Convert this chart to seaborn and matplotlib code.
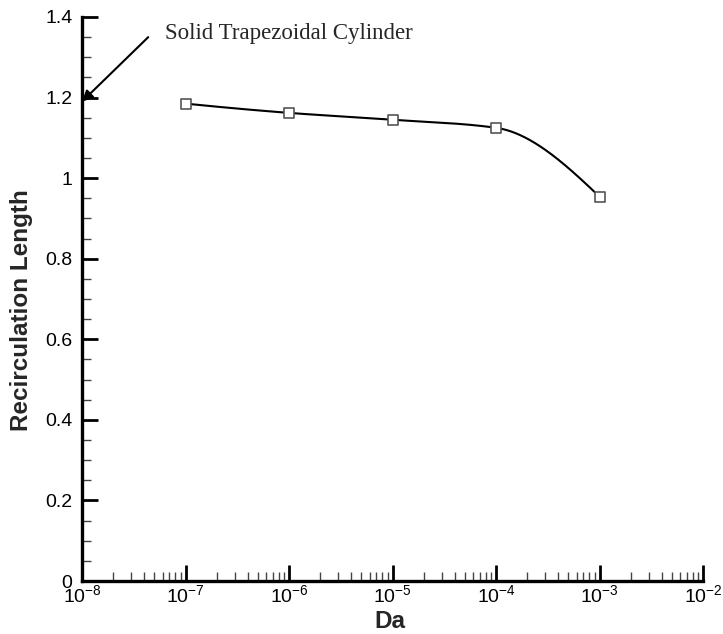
import numpy as np
import pandas as pd
import matplotlib
matplotlib.use("Agg")
import matplotlib.pyplot as plt
import seaborn as sns
from matplotlib.ticker import LogLocator, MultipleLocator, NullFormatter

# ---- data ----
da_values = [1e-7, 1e-6, 1e-5, 1e-4, 1e-3]
recirc_length = [1.185, 1.162, 1.145, 1.125, 0.954]
annotation_text = "Solid Trapezoidal Cylinder"
x_label = "Da"
y_label = "Recirculation Length"

sns.set_style("white")
plt.rcParams["font.family"] = ["Liberation Sans", "DejaVu Sans"]
plt.rcParams["mathtext.fontset"] = "custom"
plt.rcParams["mathtext.rm"] = "Liberation Sans"
plt.rcParams["mathtext.it"] = "Liberation Sans:italic"
plt.rcParams["mathtext.bf"] = "Liberation Sans:bold"
plt.rcParams["axes.unicode_minus"] = False


def pchip(t, y, tn):
    t = np.asarray(t, float); y = np.asarray(y, float)
    h = np.diff(t); delta = np.diff(y) / h
    n = len(t)
    d = np.zeros(n)
    for k in range(1, n - 1):
        if delta[k - 1] * delta[k] > 0:
            w1 = 2 * h[k] + h[k - 1]; w2 = h[k] + 2 * h[k - 1]
            d[k] = (w1 + w2) / (w1 / delta[k - 1] + w2 / delta[k])
    d0 = ((2 * h[0] + h[1]) * delta[0] - h[0] * delta[1]) / (h[0] + h[1])
    if np.sign(d0) != np.sign(delta[0]):
        d0 = 0
    d[0] = d0
    dn = ((2 * h[-1] + h[-2]) * delta[-1] - h[-1] * delta[-2]) / (h[-1] + h[-2])
    if np.sign(dn) != np.sign(delta[-1]):
        dn = 0
    d[-1] = dn
    out = np.empty_like(tn)
    for j, tv in enumerate(tn):
        i = min(max(np.searchsorted(t, tv) - 1, 0), n - 2)
        s = (tv - t[i]) / h[i]
        h00 = 2 * s**3 - 3 * s**2 + 1
        h10 = s**3 - 2 * s**2 + s
        h01 = -2 * s**3 + 3 * s**2
        h11 = s**3 - s**2
        out[j] = h00 * y[i] + h10 * h[i] * d[i] + h01 * y[i + 1] + h11 * h[i] * d[i + 1]
    return out


logx = np.log10(da_values)
tn = np.linspace(logx[0], logx[-1], 400)
curve = pd.DataFrame({"Da": 10 ** tn, "L": pchip(logx, recirc_length, tn)})
pts = pd.DataFrame({"Da": da_values, "L": recirc_length})

fig = plt.figure(figsize=(7.23, 6.34), dpi=100)
ax = fig.add_axes([82 / 723, 1 - 581 / 634, 621 / 723, 564 / 634])

sns.lineplot(data=curve, x="Da", y="L", ax=ax, color="black", linewidth=1.5, zorder=2)
sns.scatterplot(data=pts, x="Da", y="L", ax=ax, marker="s", s=55,
                facecolor="white", edgecolor="#555555", linewidth=1.2, zorder=3)

ax.set_xscale("log")
ax.set_xlim(1e-8, 1e-2)
ax.set_ylim(0, 1.4)

ax.xaxis.set_major_locator(LogLocator(base=10, numticks=10))
ax.xaxis.set_minor_locator(LogLocator(base=10, subs=np.arange(2, 10), numticks=20))
ax.xaxis.set_minor_formatter(NullFormatter())
ax.yaxis.set_major_locator(MultipleLocator(0.2))
ax.yaxis.set_minor_locator(MultipleLocator(0.05))
ax.yaxis.set_major_formatter(plt.FuncFormatter(lambda v, p: ("%g" % round(v, 2))))

for s in ["top", "right"]:
    ax.spines[s].set_visible(False)
for s in ["left", "bottom"]:
    ax.spines[s].set_linewidth(2.4)
    ax.spines[s].set_color("black")

ax.tick_params(which="both", left=True, bottom=True, top=False, right=False)
ax.tick_params(which="major", direction="in", length=11.5, width=2, labelsize=14,
               colors="black")
ax.tick_params(which="minor", direction="in", length=6.5, width=1, colors="#444444")
ax.tick_params(axis="x", which="major", pad=2)
ax.tick_params(axis="y", which="major", pad=7)

ax.set_xlabel(x_label, fontsize=17.5, fontweight="bold")
ax.set_ylabel(y_label, fontsize=17.5, fontweight="bold")
ax.xaxis.set_label_coords(0.496, -0.071)
ax.yaxis.set_label_coords(-0.097, 0.48)
ax.xaxis.label.set_va("center")
ax.yaxis.label.set_va("center")

ax.annotate("", xy=(1e-8, 1.19), xytext=(10 ** -7.36, 1.35),
            arrowprops=dict(arrowstyle="-|>", color="black", lw=1.5,
                            mutation_scale=16, shrinkA=0, shrinkB=0),
            annotation_clip=False)
ax.text(10 ** -7.195, 1.358, annotation_text, fontsize=16.5, family="Liberation Serif",
        ha="left", va="center")

fig.savefig("out.png", dpi=100)
